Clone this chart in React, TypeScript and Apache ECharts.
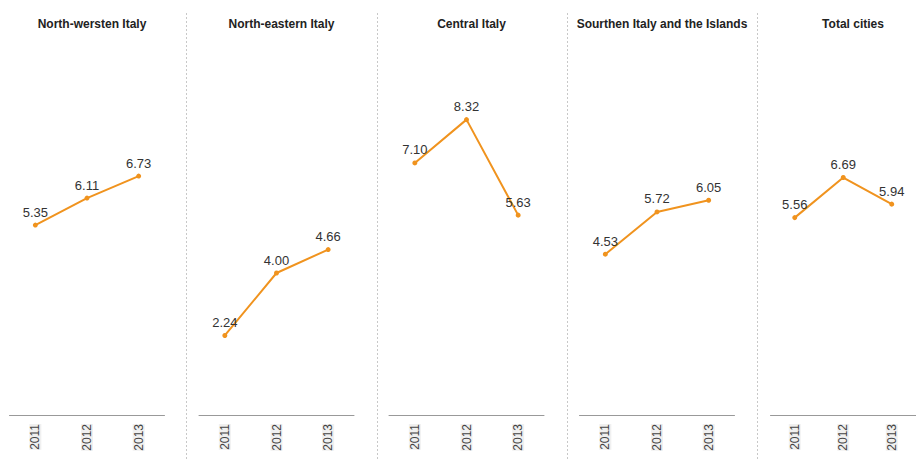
import React, { useEffect, useRef } from "react";
import * as echarts from "echarts";

const years = ["2011", "2012", "2013"];
const regions = [
  "North-wersten Italy",
  "North-eastern Italy",
  "Central Italy",
  "Sourthen Italy and the Islands",
  "Total cities",
];
const northWest = [5.35, 6.11, 6.73];
const northEast = [2.24, 4.0, 4.66];
const central = [7.1, 8.32, 5.63];
const south = [4.53, 5.72, 6.05];
const total = [5.56, 6.69, 5.94];
const seriesValues = [northWest, northEast, central, south, total];

const gridLefts = [9.5, 199, 389, 579.5, 770.5];
const dividerXs = [186.5, 377.5, 567.5, 757.5];

export default function App() {
  const ref = useRef<HTMLDivElement>(null);
  useEffect(() => {
    if (!ref.current) return;
    const chart = echarts.init(ref.current, undefined, { renderer: "svg" });
    const font = "Liberation Sans, Arial, sans-serif";
    const option: any = {
      animation: false,
      backgroundColor: "#ffffff",
      title: regions.map((r, i) => ({
        text: r,
        left: gridLefts[i] + 77.5,
        top: 13,
        textAlign: "center",
        textStyle: { fontSize: 12, fontWeight: "bold", color: "#222", fontFamily: font },
      })),
      grid: gridLefts.map((l) => ({ left: l, width: 155, top: 60, height: 355 })),
      xAxis: gridLefts.map((_, i) => ({
        type: "category",
        gridIndex: i,
        data: years,
        boundaryGap: true,
        axisLine: { lineStyle: { color: "#999", width: 1 } },
        axisTick: { show: false },
        axisLabel: {
          rotate: 90,
          margin: 9,
          color: "#444",
          fontSize: 12,
          fontFamily: font,
          backgroundColor: "#f0f0f0",
        },
        splitLine: { show: false },
      })),
      yAxis: gridLefts.map((_, i) => ({
        type: "value",
        gridIndex: i,
        min: 0,
        max: 10,
        show: false,
        splitLine: { show: false },
      })),
      series: seriesValues.map((vals, i) => ({
        type: "line",
        xAxisIndex: i,
        yAxisIndex: i,
        data: vals,
        symbol: "circle",
        symbolSize: 5,
        lineStyle: { color: "#F0931E", width: 2 },
        itemStyle: { color: "#F0931E" },
        label: {
          show: true,
          position: "top",
          distance: 4,
          color: "#333",
          fontSize: 13,
          fontFamily: font,
          formatter: (p: any) => Number(p.value).toFixed(2),
        },
      })),
      graphic: dividerXs.map((x) => ({
        type: "line",
        shape: { x1: x, y1: 13, x2: x, y2: 459 },
        style: { stroke: "#c8c8c8", lineWidth: 1, lineDash: [2, 2] },
      })),
    };
    chart.setOption(option);
    return () => chart.dispose();
  }, []);
  return (
    <div
      ref={ref}
      style={{ position: "fixed", left: 0, top: 0, width: 916, height: 459 }}
    />
  );
}
